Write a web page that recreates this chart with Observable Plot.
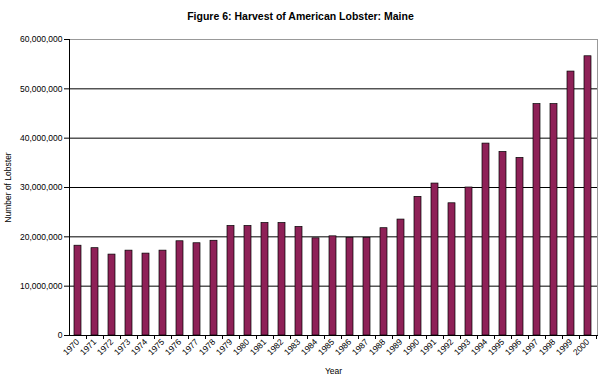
<!DOCTYPE html>
<html>
<head>
<meta charset="utf-8">
<script src="https://cdn.jsdelivr.net/npm/d3@7"></script>
<script src="https://cdn.jsdelivr.net/npm/@observablehq/plot@0.6"></script>
<style>
  html, body { margin: 0; padding: 0; background: #fff; }
  svg { display: block; }
</style>
</head>
<body>
<div id="chart"></div>
<script>
const years = ["1970","1971","1972","1973","1974","1975","1976","1977","1978","1979",
  "1980","1981","1982","1983","1984","1985","1986","1987","1988","1989",
  "1990","1991","1992","1993","1994","1995","1996","1997","1998","1999","2000"];
const harvest = [18200000,17700000,16400000,17200000,16600000,17200000,19100000,18700000,19200000,22200000,
  22200000,22800000,22800000,22000000,19700000,20100000,19800000,19800000,21750000,23500000,
  28100000,30800000,26800000,30000000,38900000,37200000,36000000,46900000,46900000,53500000,56600000];
const yTicks = [0,10000000,20000000,30000000,40000000,50000000,60000000];
const titleText = "Figure 6: Harvest of American Lobster: Maine";
const yLabel = "Number of Lobster";
const xLabel = "Year";

const data = years.map((y, i) => ({year: y, value: harvest[i]}));
const font = "Liberation Sans, Arial, sans-serif";

const chart = Plot.plot({
  width: 599,
  height: 379,
  marginLeft: 69,
  marginRight: 2,
  marginTop: 39,
  marginBottom: 44,
  style: {fontFamily: font, fontSize: "8.5px", background: "#fff", color: "#000"},
  x: {domain: years, paddingInner: 0.58, paddingOuter: 0.29, label: null},
  y: {domain: [0, 60000000], label: null},
  marks: [
    Plot.ruleY(yTicks.slice(1, -1), {stroke: "#000", strokeWidth: 1}),
    Plot.frame({stroke: "#999", strokeWidth: 1}),
    Plot.barY(data, {x: "year", y: "value", fill: "#8e2157", stroke: "#000", strokeWidth: 0.7}),
    Plot.frame({anchor: "left", stroke: "#000", strokeWidth: 1}),
    Plot.frame({anchor: "bottom", stroke: "#000", strokeWidth: 1}),
    Plot.axisY({ticks: yTicks, tickFormat: d3.format(","), tickSize: 5, tickPadding: 2, label: null, fontSize: 8.5}),
    Plot.axisX({tickRotate: -45, tickSize: 0, tickPadding: 5, label: null, fontSize: 8.5}),
    Plot.ruleX(years, {x: d => d, y1: 0, y2: 0, dx: 8.5, insetBottom: -4, stroke: "#000"}),
    Plot.text([titleText], {frameAnchor: "top", dx: -33, dy: -27, fontWeight: "bold", fontSize: 10.5}),
    Plot.text([yLabel], {frameAnchor: "left", textAnchor: "middle", dx: -61, rotate: -90, fontSize: 8.5}),
    Plot.text([xLabel], {frameAnchor: "bottom", dy: 38, fontSize: 8.5})
  ]
});
document.getElementById("chart").appendChild(chart);
</script>
</body>
</html>
